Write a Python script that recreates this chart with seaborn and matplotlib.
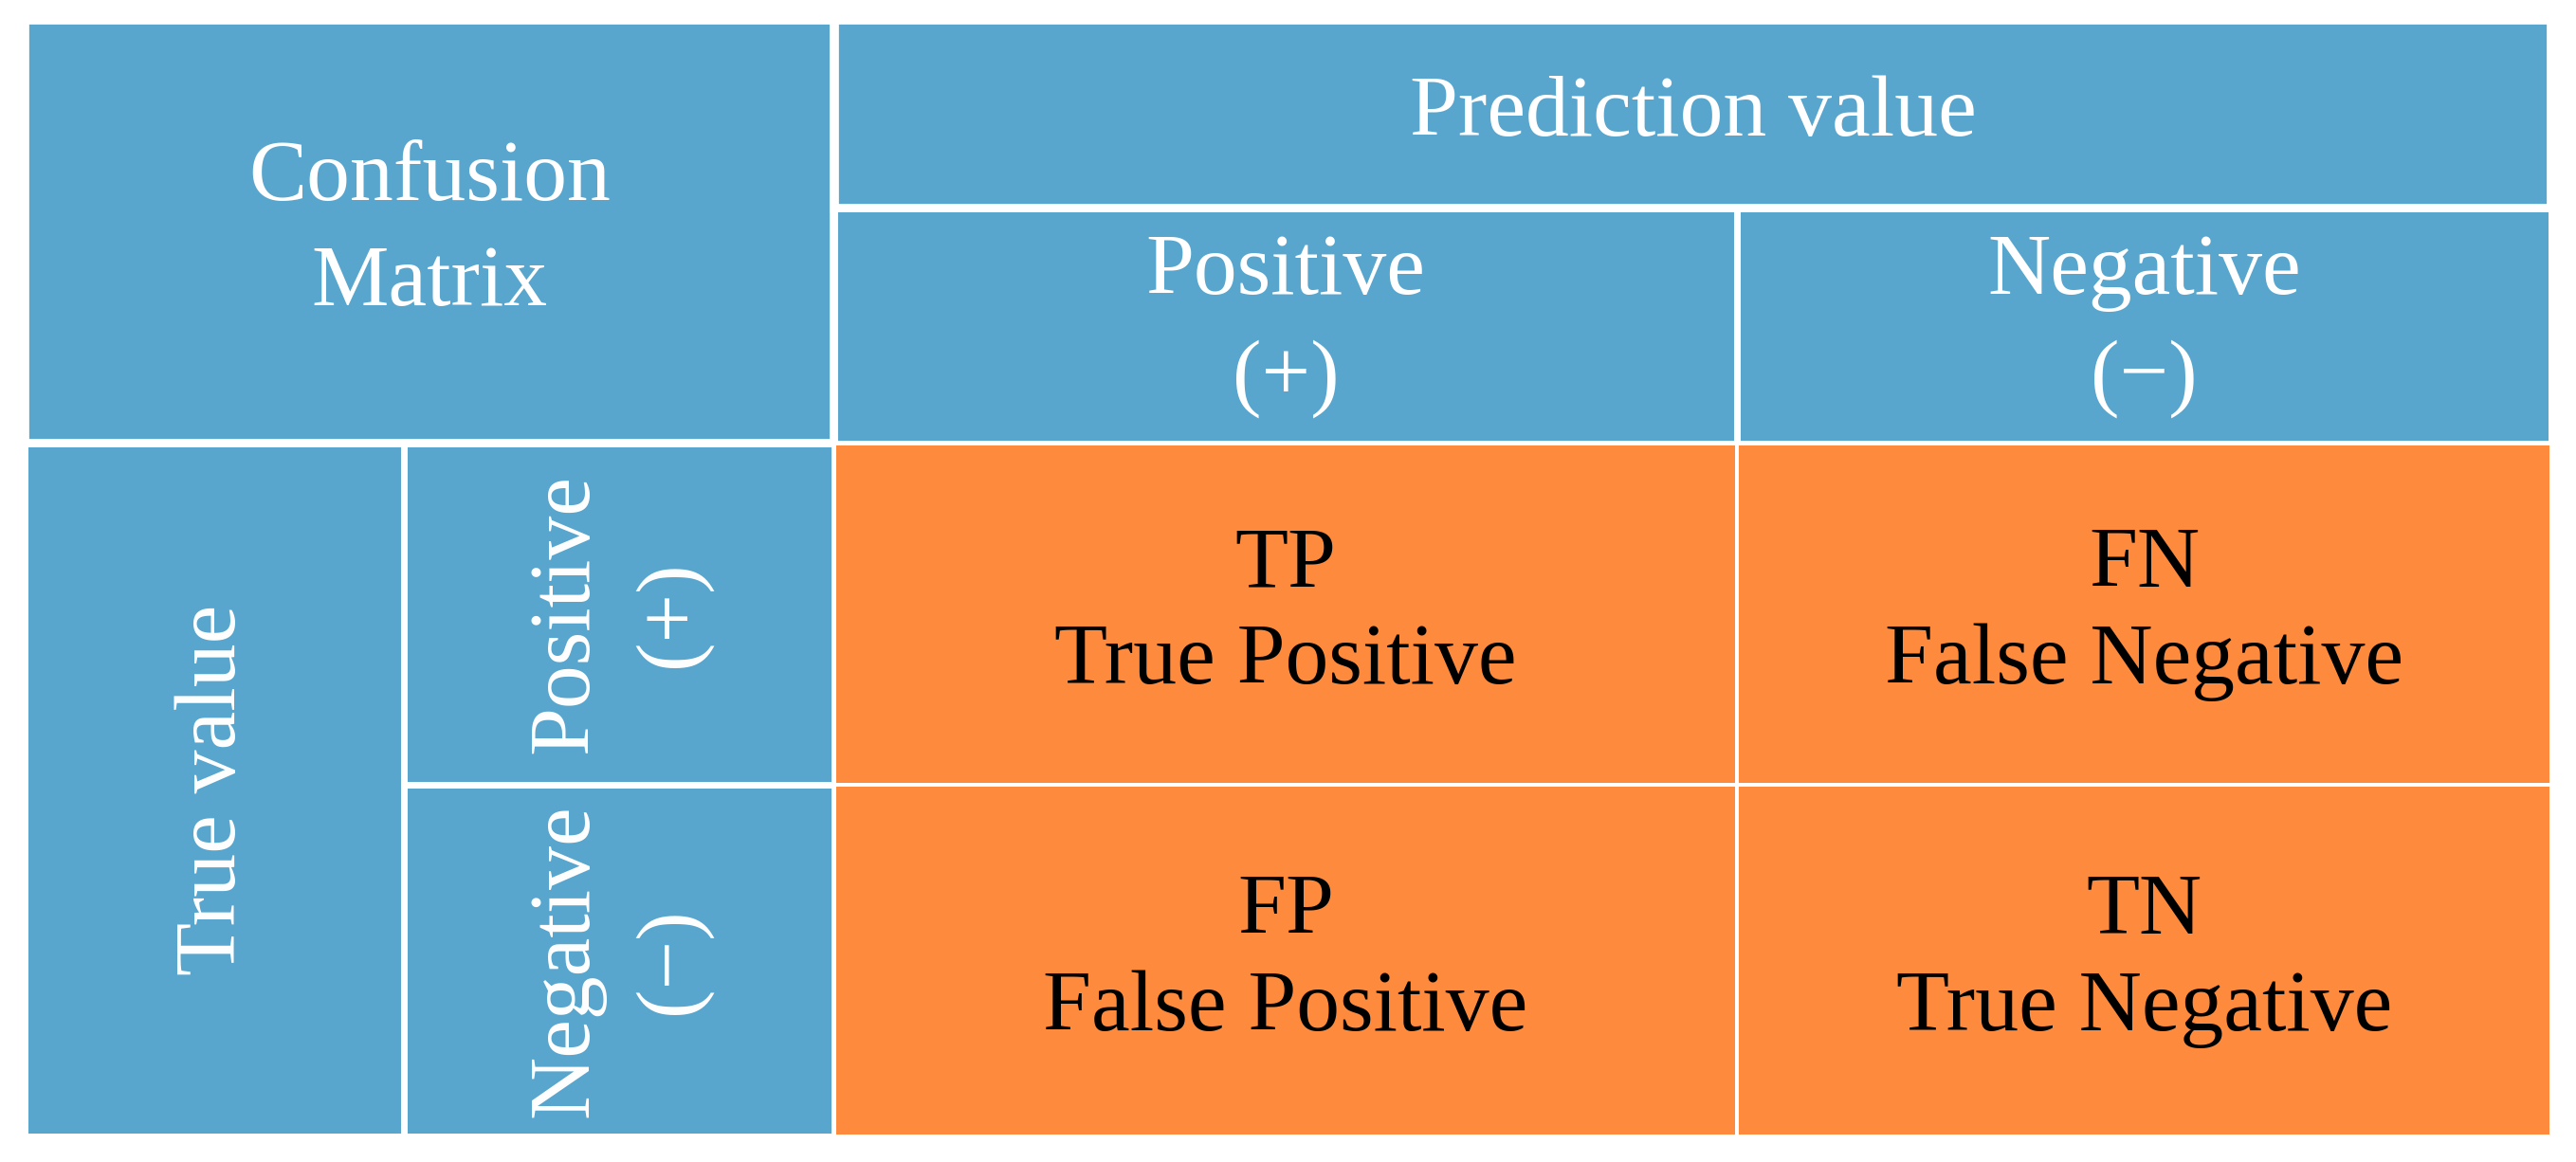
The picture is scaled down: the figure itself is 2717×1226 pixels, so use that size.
import matplotlib
matplotlib.use("Agg")
import matplotlib.pyplot as plt
from matplotlib.patches import Rectangle
from matplotlib.colors import ListedColormap
import seaborn as sns
import numpy as np

sns.set_theme(style="white")
plt.rcParams['font.family'] = ['Liberation Serif', 'DejaVu Serif']

W, H = 2717, 1226
BLUE = "#58A6CD"
ORANGE = "#FE8B3D"

matrix_values = [[1, 1], [1, 1]]
cell_labels = [["TP\nTrue Positive", "FN\nFalse Negative"],
               ["FP\nFalse Positive", "TN\nTrue Negative"]]
pred_labels = ["Positive\n(+)", "Negative\n(\u2212)"]
true_labels = ["Positive\n(+)", "Negative\n(\u2212)"]

fig = plt.figure(figsize=(W / 100, H / 100), dpi=100)
ax = fig.add_axes([0, 0, 1, 1])
ax.set_xlim(0, W); ax.set_ylim(H, 0); ax.axis("off")

xs = [26, 426, 880, 1832, 2691]
ys = [21, 220, 468, 828, 1199]
FS = 66

def cell(x0, x1, y0, y1, text, rot=0, lw=5):
    ax.add_patch(Rectangle((x0, y0), x1 - x0, y1 - y0, facecolor=BLUE,
                           edgecolor="white", linewidth=lw))
    ax.text((x0 + x1) / 2, (y0 + y1) / 2, text, ha="center", va="center",
            color="white", fontsize=FS, rotation=rot, linespacing=1.45,
            multialignment="center")

cell(xs[0], xs[2], ys[0], ys[2], "Confusion\nMatrix", lw=7)
cell(xs[2], xs[4], ys[0], ys[1], "Prediction value", lw=7)
cell(xs[2], xs[3], ys[1], ys[2], pred_labels[0])
cell(xs[3], xs[4], ys[1], ys[2], pred_labels[1])
cell(xs[0], xs[1], ys[2], ys[4], "True value", rot=90)
cell(xs[1], xs[2], ys[2], ys[3], true_labels[0], rot=90)
cell(xs[1], xs[2], ys[3], ys[4], true_labels[1], rot=90)

gap = 2
for i in range(2):
    for j in range(2):
        x0, x1 = xs[2 + j] + gap, xs[3 + j] - gap
        y0, y1 = ys[2 + i] + gap, ys[3 + i] - gap
        a = fig.add_axes([x0 / W, 1 - y1 / H, (x1 - x0) / W, (y1 - y0) / H])
        sns.heatmap(np.array([[matrix_values[i][j]]]), ax=a,
                    cmap=ListedColormap([ORANGE]), cbar=False,
                    annot=np.array([[cell_labels[i][j]]]), fmt="",
                    annot_kws={"fontsize": FS, "color": "black",
                               "linespacing": 1.3,
                               "family": ["Liberation Serif"]})
        a.set_xticks([]); a.set_yticks([])

fig.savefig("out.png", dpi=100, facecolor="white")
